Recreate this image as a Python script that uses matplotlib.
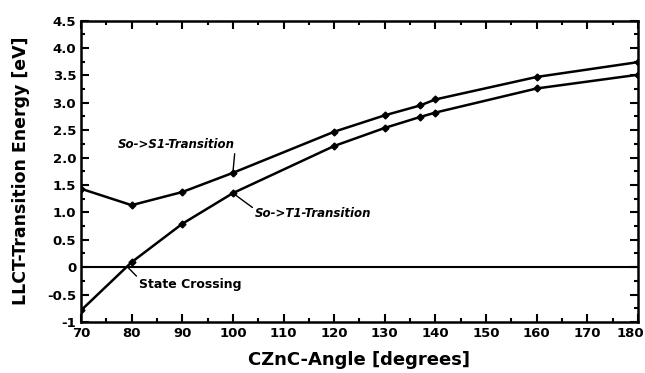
import matplotlib
matplotlib.use('Agg')
from matplotlib import pyplot as plt
from matplotlib.ticker import MultipleLocator
from matplotlib.transforms import ScaledTranslation

# CZnC angle (degrees) and transition energies (eV)
angles = [70, 80, 90, 100, 120, 130, 137, 140, 160, 180]
s1_energy = [1.43, 1.13, 1.37, 1.72, 2.47, 2.77, 2.95, 3.06, 3.47, 3.74]
t1_energy = [-0.79, 0.09, 0.79, 1.35, 2.21, 2.54, 2.74, 2.82, 3.26, 3.51]

x_ticks = list(range(70, 181, 10))
y_ticks = [-1, -0.5, 0, 0.5, 1.0, 1.5, 2.0, 2.5, 3.0, 3.5, 4.0, 4.5]
y_tick_labels = ['-1', '-0.5', '0', '0.5', '1.0', '1.5', '2.0', '2.5', '3.0', '3.5', '4.0', '4.5']

fig = plt.figure(dpi=100, figsize=(6.45, 3.73))
ax = fig.add_axes([0.1256, 0.137, 0.8634, 0.808])

ax.plot(angles, s1_energy, c='black', lw=1.8, marker='D', ms=3.5)
ax.plot(angles, t1_energy, c='black', lw=1.8, marker='D', ms=3.5)
ax.axhline(0, c='black', lw=1.5)

# labels with pointer lines
ax.annotate('So->S1-Transition', xy=(100, 1.72), xytext=(100.4, 2.12),
            fontsize=8.5, fontweight='bold', style='italic', ha='right', va='bottom',
            arrowprops=dict(arrowstyle='-', color='black', lw=1,
                            shrinkA=0, shrinkB=0, relpos=(1.0, 0.0)))
ax.annotate('So->T1-Transition', xy=(100, 1.35), xytext=(104.4, 0.98),
            fontsize=8.5, fontweight='bold', style='italic', ha='left', va='center',
            arrowprops=dict(arrowstyle='-', color='black', lw=1,
                            shrinkA=0, shrinkB=0, relpos=(0.0, 0.8)))
ax.annotate('State Crossing', xy=(79.2, 0), xytext=(81.5, -0.31),
            fontsize=9, fontweight='bold', ha='left', va='center',
            arrowprops=dict(arrowstyle='-', color='black', lw=1,
                            shrinkA=0, shrinkB=0, relpos=(0.0, 0.9)))

ax.set_xlim(70, 180)
ax.set_ylim(-1, 4.5)
ax.set_xticks(x_ticks)
ax.set_yticks(y_ticks)
ax.set_yticklabels(y_tick_labels)
ax.xaxis.set_minor_locator(MultipleLocator(5))
ax.yaxis.set_minor_locator(MultipleLocator(0.25))
ax.tick_params(axis='both', which='both', direction='in', top=True, right=True, width=1.5)
ax.tick_params(axis='both', which='major', length=6, labelsize=9.5)
ax.tick_params(axis='both', which='minor', length=3)
for lab in ax.get_xticklabels() + ax.get_yticklabels():
    lab.set_fontweight('bold')
# last x label sits a bit to the left so it stays on the page
last = ax.get_xticklabels()[-1]
last.set_transform(last.get_transform() + ScaledTranslation(-8 / 100, 0, fig.dpi_scale_trans))
for sp in ax.spines.values():
    sp.set_linewidth(1.8)

ax.set_xlabel('CZnC-Angle [degrees]', fontsize=13, fontweight='bold', labelpad=8)
ax.set_ylabel('LLCT-Transition Energy [eV]', fontsize=12.5, fontweight='bold', labelpad=12)

fig.savefig('out.png', dpi=100)
